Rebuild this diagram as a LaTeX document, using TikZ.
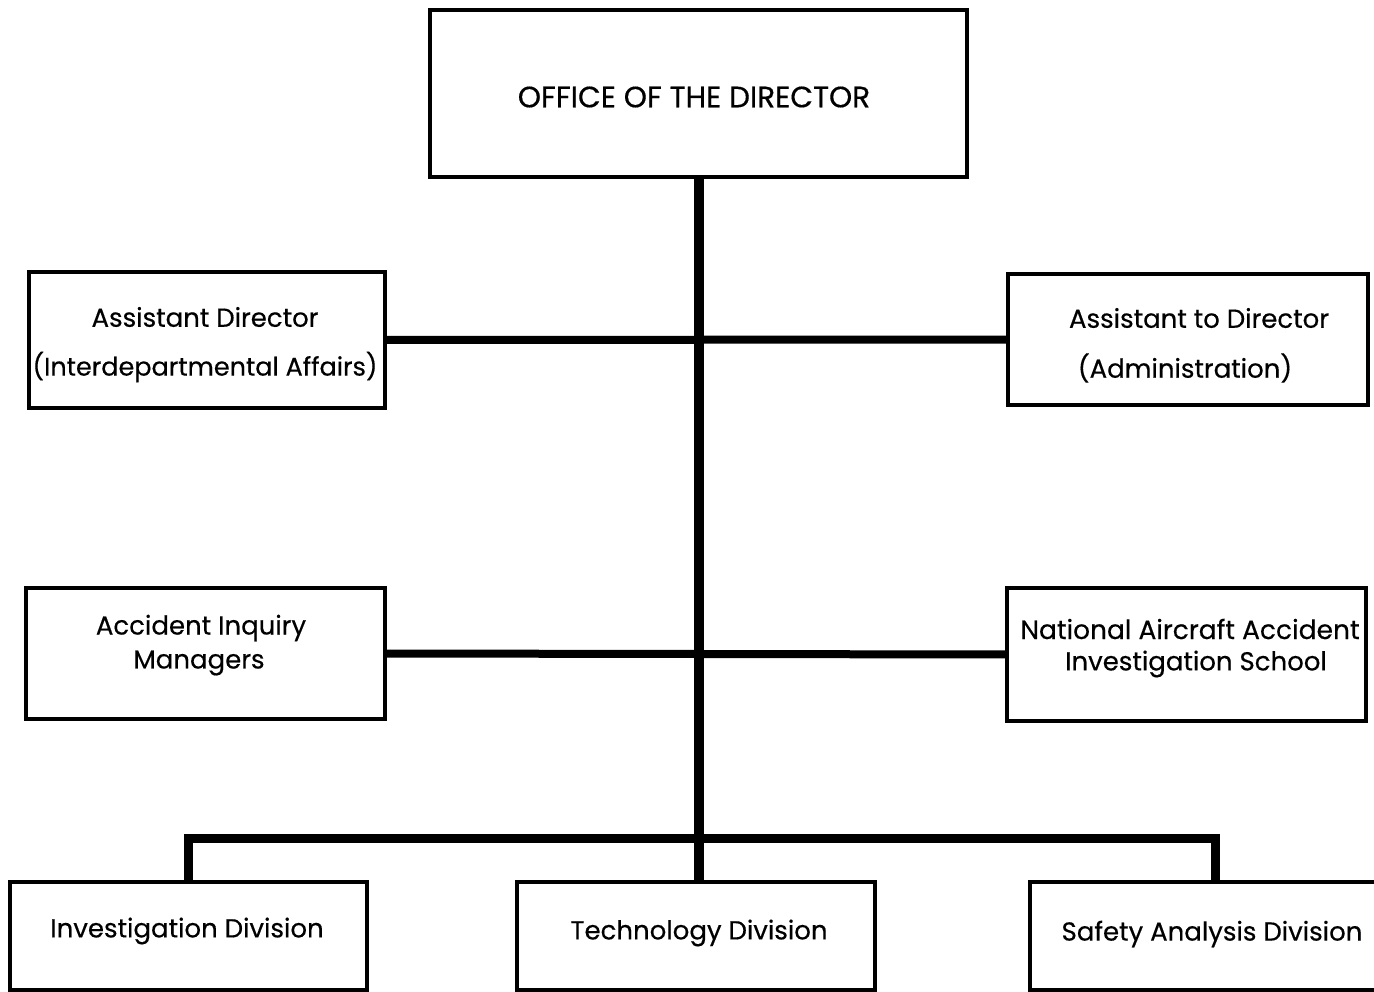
\documentclass[tikz,border=0pt]{standalone}
\usepackage{fontspec}
\setmainfont{Poppins}[FakeBold=0.4]
\newfontfamily\medfont{Poppins}[FakeBold=0.4]
\begin{document}
\begin{tikzpicture}[x=1pt,y=-1pt,
  box/.style={draw=black,line width=3.5pt,rectangle,inner sep=0pt,outer sep=0pt},
  lbl/.style={inner sep=0pt,align=center,font=\medfont\fontsize{26}{30}\selectfont},
  bar/.style={line width=9pt,line join=miter,line cap=butt}]
\useasboundingbox (0,0) rectangle (1374,992);
\fill[white] (0,0) rectangle (1374,992);
\clip (0,0) rectangle (1374,992);
% boxes
\node[box,minimum width=537pt,minimum height=167pt] (dir) at (698.5,93.5) {};
\node[box,minimum width=356pt,minimum height=136pt] (l1) at (207,340) {};
\node[box,minimum width=360pt,minimum height=131pt] (r1) at (1188,339.5) {};
\node[box,minimum width=359pt,minimum height=131pt] (l2) at (205.5,653.5) {};
\node[box,minimum width=359pt,minimum height=133pt] (r2) at (1186.5,654.5) {};
\node[box,minimum width=357pt,minimum height=108pt] (inv) at (188.5,936) {};
\node[box,minimum width=358pt,minimum height=108pt] (tech) at (696,936) {};
\node[box,minimum width=370pt,minimum height=108pt] (safe) at (1215,936) {};
% texts
\node[lbl,font=\medfont\fontsize{29.5}{34}\selectfont] (tdir) at (694,97) {OFFICE OF THE DIRECTOR};
\node[lbl,font=\medfont\fontsize{26}{30}\selectfont] (tl1a) at (205,317) {Assistant Director};
\node[lbl,font=\medfont\fontsize{25.5}{30}\selectfont] (tl1b) at (205,367) {(Interdepartmental Affairs)};
\node[lbl] (tr1a) at (1199,318) {Assistant to Director};
\node[lbl] (tr1b) at (1185,368) {(Administration)};
\node[lbl] (tl2a) at (201,628) {Accident Inquiry};
\node[lbl] (tl2b) at (199,663) {Managers};
\node[lbl,font=\medfont\fontsize{26.5}{30}\selectfont] (tr2a) at (1190,629) {National Aircraft Accident};
\node[lbl] (tr2b) at (1196,664) {Investigation School};
\node[lbl] (tinv) at (187,931) {Investigation Division};
\node[lbl] (ttech) at (699,933) {Technology Division};
\node[lbl] (tsafe) at (1212,934) {Safety Analysis Division};
% connectors
\coordinate (busy) at (0,838);
\draw[bar,line width=10pt] (dir.south) -- (dir.south |- tech.north);
\draw[bar,line width=8pt] (l1.east) -- (r1.west);
\draw[bar,line width=8pt] (l2.east) -- (r2.west);
\draw[bar] (inv.north) -- (inv.north |- busy) -- (safe.north |- busy) -- (safe.north);
\end{tikzpicture}
\end{document}
